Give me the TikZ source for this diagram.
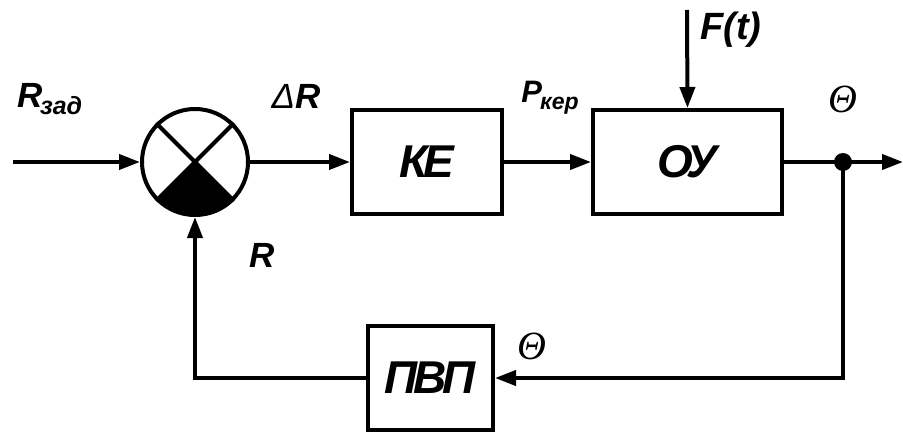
\documentclass[tikz,border=0pt]{standalone}
\usepackage{fontspec}
\setmainfont{Liberation Sans}
\newfontfamily\serifit{Liberation Serif}
\usetikzlibrary{arrows.meta}
\newcommand{\fsz}[1]{\fontsize{#1}{#1}\selectfont}
\begin{document}
\begin{tikzpicture}[x=1pt,y=1pt,
  line width=4pt,
  arr/.style={-{Triangle[length=21pt,width=15pt]}},
  blk/.style={draw,line width=4pt,minimum width=#1,minimum height=104pt,inner sep=0pt,
    font=\fsz{46}\bfseries\itshape\addfontfeature{LetterSpace=-9}},
  lbl/.style={inner sep=0pt,font=\fsz{35}\bfseries\itshape},
  th/.style={inner sep=0pt,font=\fsz{40}\serifit\itshape}]
\useasboundingbox (0,0) rectangle (903,432);
% nodes
\node[circle,draw,minimum size=106pt,inner sep=0pt] (s) at (195,270) {};
\node[blk=150pt] (ke) at (427,270) {КЕ};
\node[blk=189pt] (oy) at (687.5,270) {ОУ};
\node[blk=125pt] (pvp) at (430.5,54) {ПВП};
\coordinate (in) at (13,270);
\coordinate (ft) at (687,422);
\coordinate (j) at (843,270);
\coordinate (out) at (903,270);
\coordinate (jd) at (843,54);
\coordinate (ld) at (195,54);
% sum symbol interior
\fill (s.center) -- (s.-45) arc[start angle=-45,end angle=-135,radius=53pt] -- cycle;
\draw (s.45) -- (s.-135);
\draw (s.135) -- (s.-45);
% connectors
\draw[arr] (in) -- (s.west);
\draw[arr] (s.east) -- (ke.west);
\draw[arr] (ke.east) -- (oy.west);
\draw[arr] (ft) -- (oy.north);
\draw[arr] (oy.east) -- (out);
\fill (j) circle[radius=9pt];
\draw[arr] (j) -- (jd) -- (pvp.east);
\draw[arr] (pvp.west) -- (ld) -- (s.south);
% labels
\node[lbl] (lrz) at (50,333) {R\kern-3pt\raisebox{-7pt}{\fsz{25}\bfseries\itshape зад}};
\node[lbl] (ldr) at (296,336) {{\mdseries Δ}R};
\node[lbl] (lpk) at (550,334) {\fsz{31}P\kern-2pt\raisebox{-7pt}{\fsz{23}\bfseries\itshape кер}};
\node[lbl,font=\fsz{38}\bfseries\itshape] (lft) at (731,402) {F(t)};
\node[th] (lth1) at (843,333) {Θ};
\node[th] (lth2) at (532,86) {Θ};
\node[lbl] (lr) at (262,177) {R};
\end{tikzpicture}
\end{document}
